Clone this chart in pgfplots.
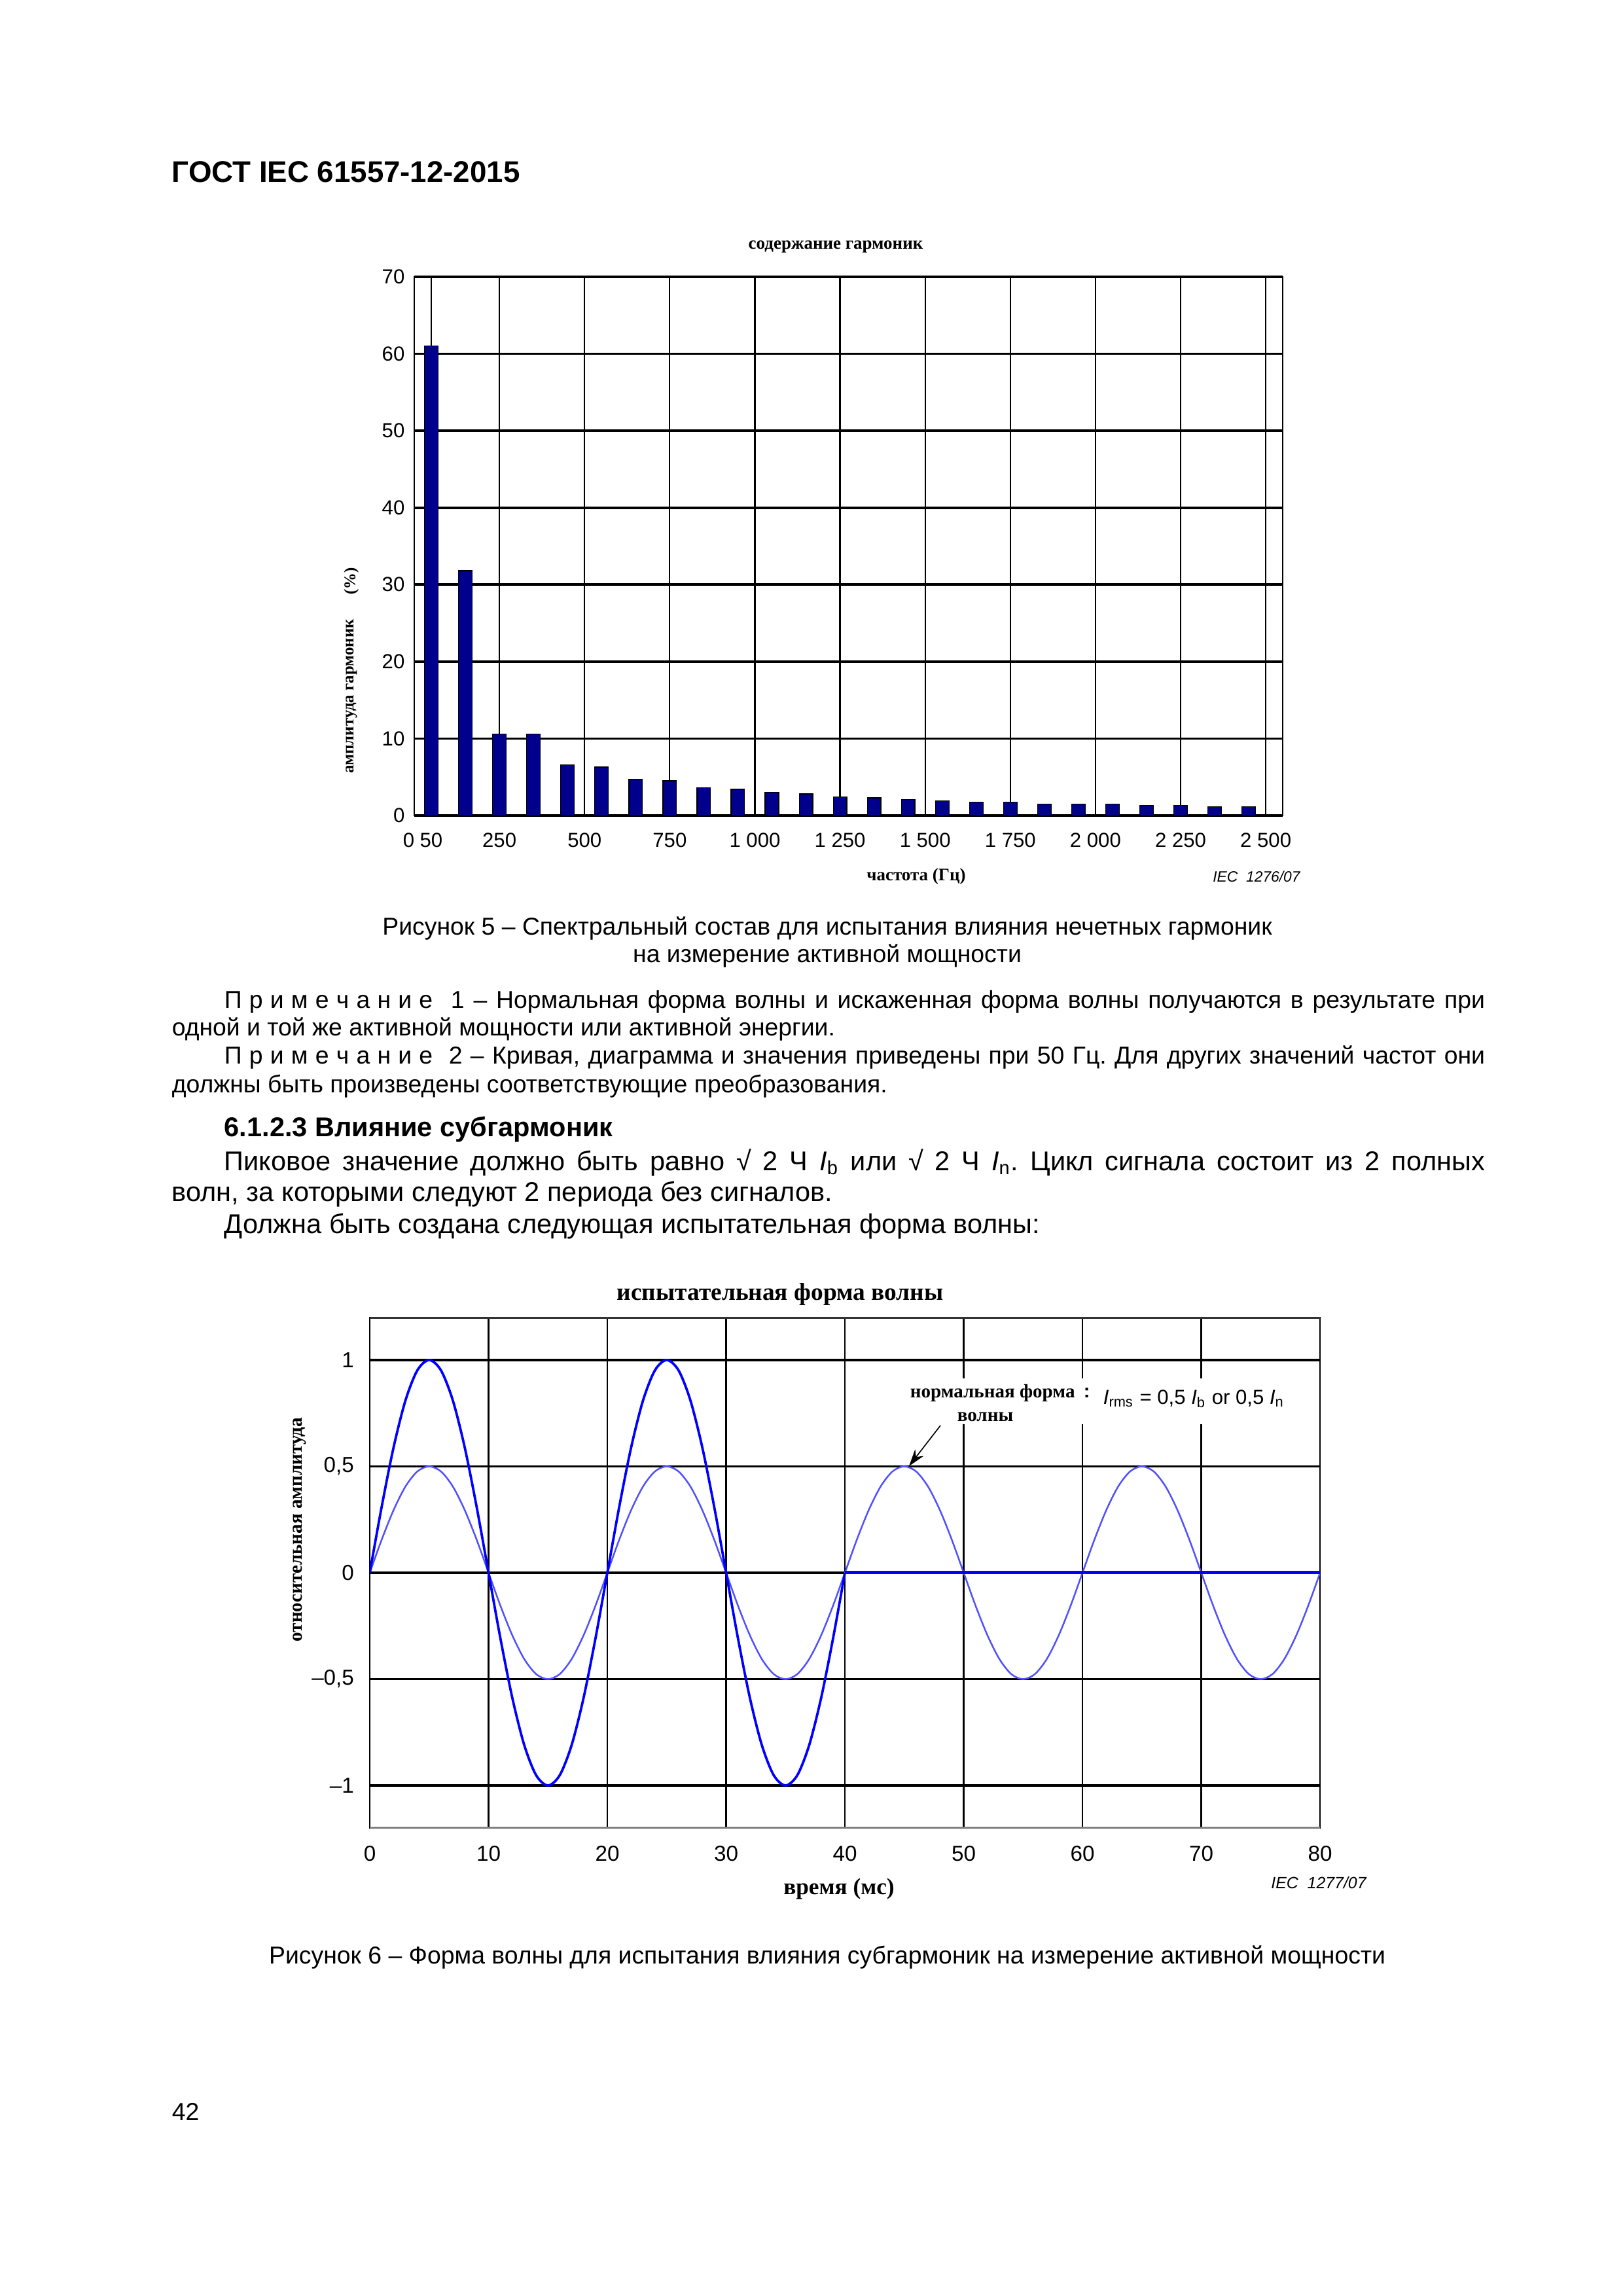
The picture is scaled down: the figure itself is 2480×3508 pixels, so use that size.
\documentclass[border=0pt]{standalone}
\usepackage{pgfplots}
\pgfplotsset{compat=1.18}
\usepackage{fontspec}
\setmainfont{Liberation Sans}
\newfontfamily\tnr{Liberation Serif}
\usetikzlibrary{arrows.meta}
\frenchspacing

\definecolor{barnavy}{RGB}{0,0,140}
\definecolor{wave}{RGB}{0,0,255}
\definecolor{wavelight}{RGB}{80,80,255}

\newcommand\fs[1]{\fontsize{#1}{#1}\selectfont}
\newcommand\prim{П\kern.3emр\kern.3emи\kern.3emм\kern.3emе\kern.3emч\kern.3emа\kern.3emн\kern.3emи\kern.3emе}
\newcommand\ii[1]{\textit{I}\textsubscript{#1}}

\begin{document}
\begin{tikzpicture}
% page in pixel units of the 2480x3508 scan, y downwards
\begin{scope}[x=0.0846774mm, y=-0.0846774mm]
\fill[white] (0,0) rectangle (2480,3508);
\coordinate (A1) at (633,1246);
\coordinate (A2) at (565,2793);

\node[anchor=base west, inner sep=0, font=\fs{11}\bfseries] at (262,278) {ГОСТ IEC 61557-12-2015};

% figure 5 texts
\node[font=\tnr\bfseries\fs{6.5}] at (1277,377) {содержание гармоник};
\node[font=\tnr\bfseries\fs{6}, rotate=90] at (537,1064) {амплитуда гармоник};
\node[font=\tnr\bfseries\fs{6}, rotate=90] at (537,888) {(\%)};
\node[font=\tnr\bfseries\fs{6.5}] at (1400,1339) {частота (Гц)};
\node[font=\itshape\fs{5.5}] at (1920,1339) {IEC\ \ 1276/07};

\node[anchor=base, inner sep=0, font=\fs{9}] at (1264,1428) {Рисунок 5 – Спектральный состав для испытания влияния нечетных гармоник};
\node[anchor=base, inner sep=0, font=\fs{9}] at (1264,1470) {на измерение активной мощности};

% notes
\node[anchor=base west, inner sep=0, font=\fs{9}] at (342,1540) {\makebox[163.09mm][s]{\prim{}\ \ 1 – Нормальная форма волны и искаженная форма волны получаются в результате при}};
\node[anchor=base west, inner sep=0, font=\fs{9}] at (262,1582) {одной и той же активной мощности или активной энергии.};
\node[anchor=base west, inner sep=0, font=\fs{9}] at (342,1625) {\makebox[163.09mm][s]{\prim{}\ \ 2 – Кривая, диаграмма и значения приведены при 50 Гц. Для других значений частот они}};
\node[anchor=base west, inner sep=0, font=\fs{9}] at (262,1669) {должны быть произведены соответствующие преобразования.};

\node[anchor=base west, inner sep=0, font=\fs{10}\bfseries] at (342,1736) {6.1.2.3 Влияние субгармоник};
\node[anchor=base west, inner sep=0, font=\fs{10}] at (342,1788) {\makebox[163.09mm][s]{Пиковое значение должно быть равно √ 2 Ч \ii{b} или √ 2 Ч \ii{n}. Цикл сигнала состоит из 2 полных}};
\node[anchor=base west, inner sep=0, font=\fs{10}] at (262,1835) {волн, за которыми следуют 2 периода без сигналов.};
\node[anchor=base west, inner sep=0, font=\fs{10}] at (342,1884) {Должна быть создана следующая испытательная форма волны:};

% figure 6 texts
\node[font=\tnr\bfseries\fs{9}] at (1192,1977) {испытательная форма волны};
\node[font=\tnr\bfseries\fs{7}, rotate=90] at (458,2337) {относительная амплитуда};
\node[font=\tnr\bfseries\fs{8.5}] at (1282,2886) {время (мс)};
\node[font=\itshape\fs{6}] at (2015,2877) {IEC\ \ 1277/07};

\node[anchor=base, inner sep=0, font=\fs{9}] at (1264,3000) {Рисунок 6 – Форма волны для испытания влияния субгармоник на измерение активной мощности};

\node[anchor=base west, inner sep=0, font=\fs{9}] at (262,3239) {42};
\end{scope}

\begin{axis}[
  at={(A1)}, anchor=south west,
  scale only axis, width=112.37mm, height=69.69mm,
  xmin=0, xmax=2550, ymin=0, ymax=70,
  xtick={0,50,250,500,750,1000,1250,1500,1750,2000,2250,2500},
  xticklabels={{},{\makebox[0pt][r]{0\ }50},250,500,750,1 000,1 250,1 500,1 750,2 000,2 250,2 500},
  ytick={0,10,20,30,40,50,60,70},
  yticklabels={0,10,20,30,40,50,60,70},
  tick label style={font=\fs{7.5}},
  xticklabel style={yshift=-1mm},
  major tick length=0pt,
  xmajorgrids, ymajorgrids,
  x grid style={black, line width=0.55pt},
  y grid style={black, line width=0.9pt},
  axis line style={black, line width=0.6pt},
]
\addplot[ybar, bar width=40, fill=barnavy, draw=black, line width=0.3pt] coordinates {
  (50,61.0) (150,31.8) (250,10.6) (350,10.6) (450,6.6) (550,6.3) (650,4.7)
  (750,4.5) (850,3.6) (950,3.4) (1050,3.0) (1150,2.8) (1250,2.4) (1350,2.3)
  (1450,2.1) (1550,1.9) (1650,1.75) (1750,1.75) (1850,1.5) (1950,1.5)
  (2050,1.5) (2150,1.35) (2250,1.35) (2350,1.15) (2450,1.15)
};
\end{axis}

\begin{axis}[
  at={(A2)}, anchor=south west,
  scale only axis, width=122.95mm, height=66.05mm,
  xmin=0, xmax=80, ymin=-1.2, ymax=1.2,
  xtick={0,10,20,30,40,50,60,70,80},
  xticklabels={0,10,20,30,40,50,60,70,80},
  ytick={-1,-0.5,0,0.5,1},
  yticklabels={{–1},{–0,5},{0},{0,5},{1}},
  tick label style={font=\fs{8}},
  xticklabel style={yshift=-1.1mm},
  yticklabel style={xshift=-0.8mm},
  major tick length=0pt,
  xmajorgrids, ymajorgrids,
  x grid style={black, line width=0.55pt},
  y grid style={black, line width=0.9pt},
  axis line style={black, line width=0.5pt},
]
% normal waveform, amplitude 0.5
\addplot[wavelight, line width=0.6pt, smooth] coordinates {
  (0,0) (1,0.155) (2,0.294) (3,0.405) (4,0.476) (5,0.5) (6,0.476) (7,0.405) (8,0.294) (9,0.155)
  (10,0) (11,-0.155) (12,-0.294) (13,-0.405) (14,-0.476) (15,-0.5) (16,-0.476) (17,-0.405) (18,-0.294) (19,-0.155)
  (20,0) (21,0.155) (22,0.294) (23,0.405) (24,0.476) (25,0.5) (26,0.476) (27,0.405) (28,0.294) (29,0.155)
  (30,0) (31,-0.155) (32,-0.294) (33,-0.405) (34,-0.476) (35,-0.5) (36,-0.476) (37,-0.405) (38,-0.294) (39,-0.155)
  (40,0) (41,0.155) (42,0.294) (43,0.405) (44,0.476) (45,0.5) (46,0.476) (47,0.405) (48,0.294) (49,0.155)
  (50,0) (51,-0.155) (52,-0.294) (53,-0.405) (54,-0.476) (55,-0.5) (56,-0.476) (57,-0.405) (58,-0.294) (59,-0.155)
  (60,0) (61,0.155) (62,0.294) (63,0.405) (64,0.476) (65,0.5) (66,0.476) (67,0.405) (68,0.294) (69,0.155)
  (70,0) (71,-0.155) (72,-0.294) (73,-0.405) (74,-0.476) (75,-0.5) (76,-0.476) (77,-0.405) (78,-0.294) (79,-0.155)
  (80,0)
};
% test waveform: two full waves then two empty periods
\addplot[wave, line width=0.9pt, smooth] coordinates {
  (0,0) (1,0.309) (2,0.588) (3,0.809) (4,0.951) (5,1) (6,0.951) (7,0.809) (8,0.588) (9,0.309)
  (10,0) (11,-0.309) (12,-0.588) (13,-0.809) (14,-0.951) (15,-1) (16,-0.951) (17,-0.809) (18,-0.588) (19,-0.309)
  (20,0) (21,0.309) (22,0.588) (23,0.809) (24,0.951) (25,1) (26,0.951) (27,0.809) (28,0.588) (29,0.309)
  (30,0) (31,-0.309) (32,-0.588) (33,-0.809) (34,-0.951) (35,-1) (36,-0.951) (37,-0.809) (38,-0.588) (39,-0.309)
  (40,0)
};
\addplot[wave, line width=1.2pt] coordinates {(40,0) (80,0)};
\draw[gray, line width=1.2pt] (rel axis cs:0,0) -- (rel axis cs:1,0);
\draw[black!80, line width=1pt] (rel axis cs:0,1) -- (rel axis cs:1,1);
\end{axis}

% annotation on figure 6
\begin{scope}[x=0.0846774mm, y=-0.0846774mm]
\fill[white] (1385,2106) rectangle (1995,2176);
\node[anchor=base west, inner sep=0, font=\tnr\bfseries\fs{7}] at (1390,2135) {нормальная форма};
\node[anchor=base west, inner sep=0, font=\tnr\bfseries\fs{7}] at (1462,2171) {волны};
\node[anchor=base west, inner sep=0, font=\bfseries\fs{7}] at (1655,2135) {:};
\node[anchor=base west, inner sep=0, font=\fs{7.5}] at (1685,2145) {\ii{rms} = 0,5 \ii{b} or 0,5 \ii{n}};
\draw[black, line width=0.4pt, -{Stealth[length=2.2mm, width=1.4mm]}] (1437,2178) -- (1389,2240);
\end{scope}
\end{tikzpicture}
\end{document}
